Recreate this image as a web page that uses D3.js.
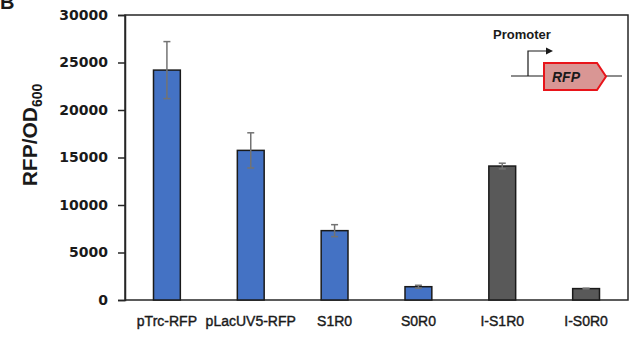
<!DOCTYPE html>
<html>
<head>
<meta charset="utf-8">
<script src="https://cdn.jsdelivr.net/npm/d3@7"></script>
<style>
  body { margin: 0; background: #fff; }
  svg { display: block; }
</style>
</head>
<body>
<div id="chart"></div>
<script>
// data
let labels = ["pTrc-RFP", "pLacUV5-RFP", "S1R0", "S0R0", "I-S1R0", "I-S0R0"];
let values = [24200, 15750, 7300, 1400, 14100, 1200];
let errors = [3000, 1850, 630, 150, 300, 40];
let groups = ["plasmid", "plasmid", "plasmid", "plasmid", "integrated", "integrated"];
let yTicks = [0, 5000, 10000, 15000, 20000, 25000, 30000];

let width = 637, height = 339;
let margin = { top: 15, right: 9, bottom: 39, left: 125 };

let colors = { plasmid: "#4472c4", integrated: "#595959" };

let svg = d3.select("#chart").append("svg")
  .attr("width", width)
  .attr("height", height);

let x = d3.scaleBand()
  .domain(labels)
  .range([margin.left, width - margin.right])
  .paddingInner(0.68)
  .paddingOuter(0.34);

let y = d3.scaleLinear()
  .domain([0, 30000])
  .range([height - margin.bottom, margin.top]);

// frame
svg.append("rect")
  .attr("x", margin.left)
  .attr("y", margin.top)
  .attr("width", width - margin.right - margin.left)
  .attr("height", height - margin.bottom - margin.top)
  .attr("fill", "none")
  .attr("stroke", "#262626")
  .attr("stroke-width", 1.5);

// y axis
let yAxis = svg.append("g")
  .attr("transform", "translate(" + margin.left + ",0)")
  .call(d3.axisLeft(y).tickValues(yTicks).tickSize(7).tickPadding(10).tickFormat(d3.format("d")));
yAxis.select(".domain").attr("stroke", "#262626").attr("stroke-width", 1.5);
yAxis.selectAll(".tick line").attr("stroke", "#262626").attr("stroke-width", 1.5);
yAxis.selectAll("text")
  .attr("fill", "#1a1a1a")
  .style("font-family", "'DejaVu Sans', sans-serif")
  .style("font-weight", "bold")
  .style("font-size", "14px");

// x labels
svg.append("g").selectAll("text")
  .data(labels)
  .enter().append("text")
  .attr("x", d => x(d) + x.bandwidth() / 2)
  .attr("y", 326)
  .attr("text-anchor", "middle")
  .attr("fill", "#1a1a1a")
  .attr("stroke", "#1a1a1a")
  .attr("stroke-width", 0.4)
  .style("font-family", "'Liberation Sans', Arial, sans-serif")
  .style("font-size", "14px")
  .text(d => d);

// bars
svg.append("g").selectAll("rect")
  .data(labels)
  .enter().append("rect")
  .attr("x", d => x(d))
  .attr("y", (d, i) => y(values[i]))
  .attr("width", x.bandwidth())
  .attr("height", (d, i) => y(0) - y(values[i]))
  .attr("fill", (d, i) => colors[groups[i]])
  .attr("stroke", "#1a1a1a")
  .attr("stroke-width", 1.5);

// error bars
let err = svg.append("g").attr("stroke", "#737373").attr("stroke-width", 1.5);
labels.forEach(function (d, i) {
  let cx = x(d) + x.bandwidth() / 2;
  let hi = y(values[i] + errors[i]), lo = y(values[i] - errors[i]);
  err.append("line").attr("x1", cx).attr("x2", cx).attr("y1", hi).attr("y2", lo);
  err.append("line").attr("x1", cx - 3.5).attr("x2", cx + 3.5).attr("y1", hi).attr("y2", hi);
  err.append("line").attr("x1", cx - 3.5).attr("x2", cx + 3.5).attr("y1", lo).attr("y2", lo);
});

// y axis title
let ytitle = svg.append("text")
  .attr("transform", "translate(37,135) rotate(-90)")
  .attr("text-anchor", "middle")
  .attr("fill", "#1a1a1a")
  .style("font-family", "'Liberation Sans', Arial, sans-serif")
  .style("font-weight", "bold")
  .style("font-size", "21px");
ytitle.append("tspan").text("RFP/OD");
ytitle.append("tspan").attr("dy", 5).style("font-size", "14px").text("600");

// panel letter (cut off at top, as in the source figure)
svg.append("text")
  .attr("x", 0)
  .attr("y", 9)
  .attr("fill", "#1a1a1a")
  .style("font-family", "'Liberation Sans', Arial, sans-serif")
  .style("font-weight", "bold")
  .style("font-size", "20px")
  .text("B");

// inset: promoter -> RFP
let inset = svg.append("g");
inset.append("text")
  .attr("x", 493)
  .attr("y", 39)
  .attr("fill", "#1a1a1a")
  .style("font-family", "'Liberation Sans', Arial, sans-serif")
  .style("font-weight", "bold")
  .style("font-size", "13px")
  .text("Promoter");
inset.append("line")
  .attr("x1", 511).attr("x2", 622).attr("y1", 76).attr("y2", 76)
  .attr("stroke", "#1a1a1a").attr("stroke-width", 1.2);
inset.append("path")
  .attr("d", "M528,76 V51 H548")
  .attr("fill", "none").attr("stroke", "#1a1a1a").attr("stroke-width", 1.2);
inset.append("path")
  .attr("d", "M553,51 L546,47.5 L546,54.5 Z")
  .attr("fill", "#1a1a1a");
inset.append("path")
  .attr("d", "M544,63 H597 L606,76.5 L597,90 H544 Z")
  .attr("fill", "#d99694")
  .attr("stroke", "#e8141a")
  .attr("stroke-width", 2);
inset.append("text")
  .attr("x", 566)
  .attr("y", 82)
  .attr("text-anchor", "middle")
  .attr("fill", "#1a1a1a")
  .style("font-family", "'Liberation Sans', Arial, sans-serif")
  .style("font-weight", "bold")
  .style("font-style", "italic")
  .style("font-size", "14px")
  .text("RFP");
</script>
</body>
</html>
